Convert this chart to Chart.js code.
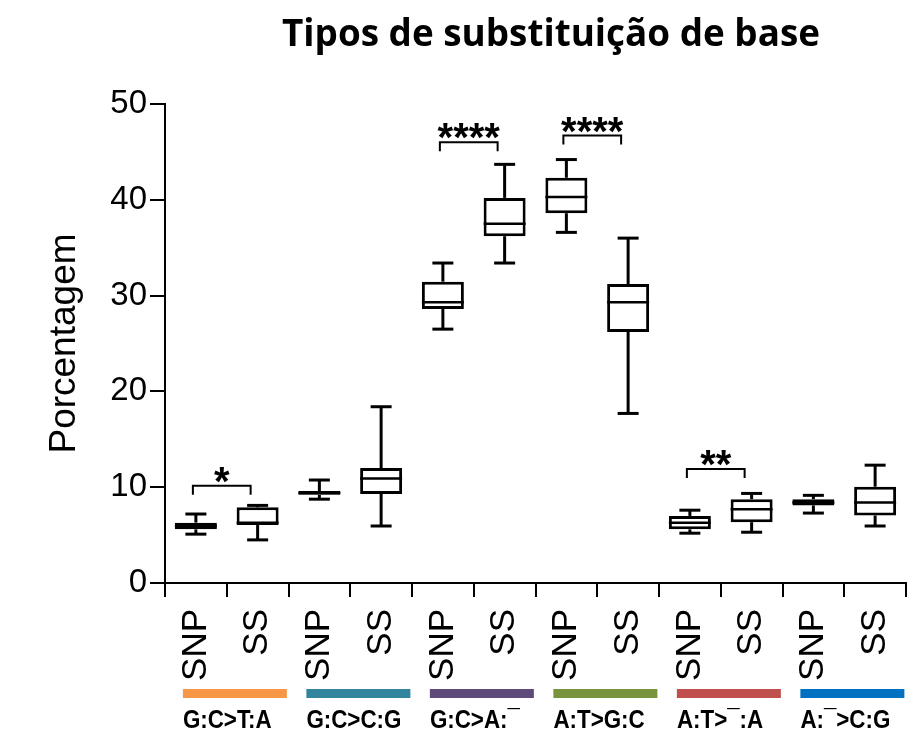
<!DOCTYPE html>
<html>
<head>
<meta charset="utf-8">
<script src="https://cdn.jsdelivr.net/npm/chart.js@4.4.1/dist/chart.umd.min.js"></script>
<style>
  html, body { margin: 0; padding: 0; background: #fff; }
  #wrap { width: 913px; height: 731px; }
</style>
</head>
<body>
<div id="wrap"><canvas id="chart" width="913" height="731"></canvas></div>
<script>
const titleText = 'Tipos de substituição de base';
const labels = ['SNP', 'SS', 'SNP', 'SS', 'SNP', 'SS', 'SNP', 'SS', 'SNP', 'SS', 'SNP', 'SS'];
const groups = ['G:C>T:A', 'G:C>C:G', 'G:C>A:¯', 'A:T>G:C', 'A:T>¯:A', 'A:¯>C:G'];
const groupColors = ['#f79646', '#31859c', '#604a7b', '#77933c', '#c0504d', '#0070c0'];

// box plot values (%)
const whiskerLow  = [5.1, 4.5, 8.75, 5.95, 26.5, 33.4, 36.6, 17.7, 5.2, 5.3, 7.3, 5.95];
const q1          = [5.6, 6.05, 9.2, 9.3, 28.6, 36.2, 38.6, 26.2, 5.6, 6.35, 8.1, 7.05];
const median      = [5.95, 6.3, 9.4, 10.9, 29.3, 37.5, 40.3, 29.3, 6.3, 7.7, 8.4, 8.4];
const q3          = [6.3, 7.9, 9.6, 12.0, 31.45, 40.2, 42.3, 31.2, 7.0, 8.75, 8.75, 10.05];
const whiskerHigh = [7.2, 8.1, 10.75, 18.4, 33.4, 43.7, 44.2, 36.0, 7.6, 9.35, 9.15, 12.3];

// significance brackets
const sigPairs = [[0, 1], [4, 5], [6, 7], [8, 9]];
const sigLabels = ['*', '****', '****', '**'];
const sigLevels = [10.15, 46.0, 46.7, 11.9];

Chart.defaults.font.family = "'Liberation Sans', Arial, sans-serif";
Chart.defaults.color = '#000';

function line(ctx, x1, y1, x2, y2) {
  ctx.beginPath();
  ctx.moveTo(x1, y1);
  ctx.lineTo(x2, y2);
  ctx.stroke();
}

const boxPlot = {
  id: 'boxPlot',
  afterDatasetsDraw(chart) {
    const { ctx, scales: { y } } = chart;
    const meta = chart.getDatasetMeta(0);
    ctx.save();
    ctx.strokeStyle = '#000';
    meta.data.forEach((bar, i) => {
      const cx = bar.x, half = bar.width / 2, cap = bar.width / 4;
      const yLo = y.getPixelForValue(whiskerLow[i]);
      const yHi = y.getPixelForValue(whiskerHigh[i]);
      const yQ1 = y.getPixelForValue(q1[i]);
      const yQ3 = y.getPixelForValue(q3[i]);
      const yMed = y.getPixelForValue(median[i]);
      ctx.lineWidth = 3;
      line(ctx, cx, yQ3, cx, yHi);
      line(ctx, cx, yQ1, cx, yLo);
      line(ctx, cx - cap, yHi, cx + cap, yHi);
      line(ctx, cx - cap, yLo, cx + cap, yLo);
      ctx.lineWidth = 2.5;
      line(ctx, cx - half, yMed, cx + half, yMed);
    });
    ctx.restore();
  }
};

const decorations = {
  id: 'decorations',
  afterDraw(chart) {
    const { ctx, scales: { x, y } } = chart;
    ctx.save();
    ctx.fillStyle = '#000';
    ctx.strokeStyle = '#000';

    // title
    ctx.font = "bold 38px 'Open Sans'";
    ctx.textAlign = 'center';
    ctx.textBaseline = 'alphabetic';
    const tw = ctx.measureText(titleText).width;
    ctx.save();
    ctx.translate(551, 46);
    ctx.scale(538 / tw, 1);
    ctx.fillText(titleText, 0, 0);
    ctx.restore();

    // significance brackets
    ctx.lineWidth = 2;
    ctx.font = "bold 40px 'Liberation Sans'";
    sigPairs.forEach(([a, b], k) => {
      const x1 = x.getPixelForValue(a) - 3;
      const x2 = x.getPixelForValue(b) - 7;
      const yb = y.getPixelForValue(sigLevels[k]);
      ctx.beginPath();
      ctx.moveTo(x1, yb + 9);
      ctx.lineTo(x1, yb);
      ctx.lineTo(x2, yb);
      ctx.lineTo(x2, yb + 9);
      ctx.stroke();
      ctx.fillText(sigLabels[k], (x1 + x2) / 2, yb + 9);
    });

    // group colour bars and labels
    ctx.textAlign = 'left';
    ctx.font = "bold 26px 'Liberation Sans'";
    groups.forEach((g, k) => {
      const left = x.getPixelForValue(2 * k) - 13;
      ctx.fillStyle = groupColors[k];
      ctx.fillRect(left, 689, 104, 9);
      ctx.fillStyle = '#000';
      ctx.save();
      ctx.translate(left, 728);
      ctx.scale(0.86, 1);
      ctx.fillText(g, 0, 0);
      ctx.restore();
    });
    ctx.restore();
  }
};

new Chart(document.getElementById('chart'), {
  type: 'bar',
  data: {
    labels,
    datasets: [{
      data: q1.map((v, i) => [v, q3[i]]),
      backgroundColor: '#fff',
      borderColor: '#000',
      borderWidth: 3,
      borderSkipped: false,
      barPercentage: 0.68,
      categoryPercentage: 1
    }]
  },
  options: {
    responsive: false,
    animation: false,
    layout: { padding: { top: 104, right: 7, left: 0, bottom: 0 } },
    plugins: { legend: { display: false }, tooltip: { enabled: false } },
    scales: {
      x: {
        grid: { drawOnChartArea: false, color: '#000', lineWidth: 2, tickLength: 14 },
        border: { color: '#000', width: 2 },
        ticks: { color: '#000', font: { size: 35 }, maxRotation: 90, minRotation: 90, padding: 12, autoSkip: false },
        afterFit(s) { s.height = 148; s.paddingLeft = 0; s.paddingRight = 0; }
      },
      y: {
        min: 0,
        max: 50,
        ticks: { stepSize: 10, color: '#000', font: { size: 33 }, padding: 3 },
        grid: { drawOnChartArea: false, color: '#000', lineWidth: 2, tickLength: 15 },
        border: { color: '#000', width: 2 },
        title: { display: true, text: 'Porcentagem', color: '#000', font: { size: 37 }, padding: { top: 43 } },
        afterFit(s) { s.width = 165; }
      }
    }
  },
  plugins: [boxPlot, decorations]
});
</script>
</body>
</html>
